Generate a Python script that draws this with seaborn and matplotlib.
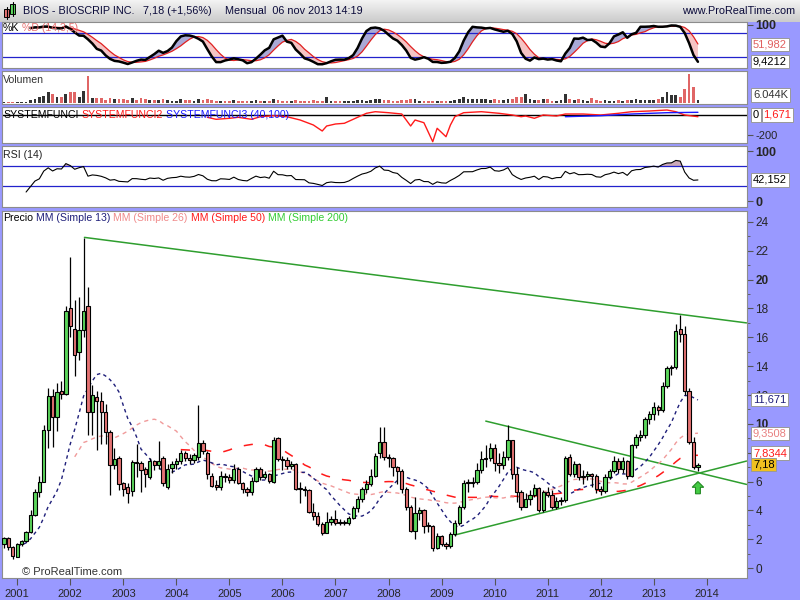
import numpy as np
import pandas as pd
import matplotlib
matplotlib.use("Agg")
import matplotlib.pyplot as plt
from matplotlib.patches import Rectangle
import seaborn as sns

# BIOS monthly candles, Oct 2000 .. Nov 2013 (rows = calendar years)
opens = [
    1.70, 2.10, 1.48,
    0.80, 1.70, 1.85, 2.50, 3.70, 5.25, 6.00, 9.60, 11.90, 10.50, 12.30, 12.10,
    18.05, 16.60, 14.95, 16.50, 18.20, 10.80, 11.85, 11.60, 10.80, 9.40, 7.15, 7.60,
    5.90, 5.65, 5.35, 7.35, 7.30, 6.90, 6.30, 7.45, 7.15, 7.60, 5.60, 6.95,
    7.25, 7.40, 7.95, 7.60, 7.50, 7.70, 8.70, 8.00, 6.40, 5.70, 5.65, 6.40,
    6.30, 6.10, 6.90, 5.90, 5.45, 5.25, 6.05, 6.85, 6.30, 6.50, 6.00, 9.05,
    7.55, 7.50, 7.10, 7.20, 5.50, 5.45, 5.40, 3.90, 3.60, 3.05, 2.40, 3.20,
    3.40, 3.15, 3.10, 3.15, 3.50, 4.15, 4.80, 5.45, 5.80, 6.40, 8.00, 8.75,
    7.70, 7.60, 7.00, 6.75, 5.45, 4.25, 2.60, 3.80, 4.00, 2.95, 2.90, 1.40,
    2.20, 1.65, 1.50, 2.35, 3.15, 4.20, 5.90, 5.90, 5.95, 6.80, 7.55, 7.60,
    8.35, 7.30, 7.15, 7.70, 8.90, 6.50, 5.25, 4.20, 4.80, 5.10, 5.55, 4.00,
    5.30, 5.05, 4.20, 4.65, 4.70, 7.70, 6.55, 7.20, 6.30, 6.35, 6.50, 6.40,
    5.50, 5.35, 6.30, 6.70, 7.40, 6.90, 7.40, 6.40, 8.50, 9.10, 9.20, 10.35,
    10.70, 11.20, 10.95, 12.65, 13.85, 13.95, 16.55, 16.25, 12.25, 8.75, 7.00,
]
highs = [
    2.15, 2.15, 1.55,
    1.75, 1.95, 2.60, 4.00, 5.50, 6.40, 9.90, 12.50, 12.40, 12.80, 13.00, 18.20,
    21.60, 18.60, 18.80, 22.90, 19.50, 12.70, 12.30, 12.20, 11.40, 9.60, 8.30, 7.80,
    6.00, 5.90, 7.50, 8.60, 7.40, 7.00, 7.60, 7.50, 8.80, 7.80, 7.20, 7.40,
    7.60, 8.20, 8.10, 7.90, 8.00, 11.30, 8.90, 8.10, 6.60, 6.10, 6.70, 6.60,
    6.50, 7.20, 7.00, 6.00, 5.60, 6.30, 7.00, 7.00, 6.70, 6.60, 9.10, 9.10,
    7.80, 7.70, 7.40, 7.30, 6.00, 5.70, 5.50, 4.50, 3.90, 3.20, 3.90, 3.60,
    4.00, 3.40, 3.30, 3.60, 4.30, 5.00, 5.60, 6.10, 6.90, 8.00, 9.80, 9.80,
    7.90, 7.70, 7.10, 6.90, 5.60, 4.40, 4.90, 4.20, 4.10, 3.20, 3.00, 2.40,
    2.30, 1.80, 2.50, 3.30, 4.40, 6.10, 6.20, 6.30, 7.30, 8.10, 8.50, 8.70,
    8.60, 8.00, 8.10, 9.90, 8.90, 7.00, 5.40, 5.20, 5.40, 5.80, 5.60, 5.40,
    5.60, 5.40, 4.90, 4.90, 7.80, 7.90, 7.40, 7.30, 6.80, 6.70, 6.60, 6.50,
    5.70, 6.50, 6.90, 7.80, 7.60, 7.70, 7.50, 8.60, 9.30, 9.60, 10.50, 10.90,
    11.50, 11.30, 12.90, 14.00, 14.10, 16.90, 17.55, 16.80, 12.50, 9.10, 7.30,
]
lows = [
    1.40, 1.25, 0.60,
    0.75, 1.55, 1.80, 2.40, 3.60, 4.90, 6.00, 8.30, 8.40, 9.50, 11.70, 12.00,
    16.00, 13.30, 14.40, 16.00, 9.20, 9.20, 8.20, 8.60, 8.60, 5.06, 6.90, 5.40,
    5.00, 4.50, 5.00, 6.30, 5.30, 5.60, 6.20, 6.80, 6.90, 5.70, 5.50, 6.60,
    6.90, 7.20, 7.40, 7.20, 7.30, 7.50, 7.90, 6.20, 5.60, 5.40, 5.40, 6.00,
    5.90, 5.90, 5.80, 5.20, 5.00, 5.10, 6.00, 6.10, 6.20, 5.90, 5.90, 7.40,
    6.80, 6.90, 6.90, 5.40, 4.50, 5.00, 3.80, 3.30, 2.90, 2.30, 2.40, 3.00,
    3.00, 3.00, 3.00, 3.00, 3.40, 3.90, 4.60, 5.20, 5.70, 6.30, 7.60, 7.50,
    7.00, 6.40, 5.80, 5.20, 4.00, 2.50, 2.00, 3.30, 2.40, 2.50, 1.20, 1.30,
    1.50, 1.30, 1.40, 2.20, 3.00, 4.10, 5.30, 5.60, 5.80, 6.60, 7.00, 7.40,
    6.70, 6.60, 6.90, 7.50, 6.20, 4.60, 4.00, 4.20, 4.40, 4.90, 3.90, 3.90,
    4.90, 4.10, 4.10, 4.40, 4.60, 6.40, 6.30, 6.10, 5.80, 6.10, 5.60, 5.20,
    5.10, 5.20, 6.20, 6.60, 6.60, 6.60, 6.20, 6.30, 8.30, 8.80, 9.00, 10.00,
    10.30, 10.60, 10.80, 12.50, 13.40, 13.80, 15.70, 12.00, 8.60, 6.90, 6.70,
]
closes = [
    2.10, 1.48, 0.85,
    1.70, 1.85, 2.50, 3.70, 5.25, 6.00, 9.60, 11.90, 10.50, 12.20, 12.10, 17.80,
    16.80, 14.80, 16.50, 17.80, 10.80, 12.00, 11.60, 10.80, 9.40, 7.15, 7.55, 5.80,
    5.50, 5.20, 7.35, 7.30, 6.80, 6.50, 7.45, 7.15, 7.45, 5.90, 6.90, 7.25,
    7.40, 8.00, 7.60, 7.50, 7.85, 8.70, 8.15, 6.50, 5.70, 5.65, 6.40, 6.30,
    6.10, 6.90, 5.90, 5.45, 5.25, 6.05, 6.85, 6.30, 6.50, 6.05, 8.90, 7.55,
    7.50, 7.10, 7.20, 5.50, 5.45, 5.40, 3.90, 3.60, 3.05, 2.40, 3.20, 3.40,
    3.15, 3.10, 3.15, 3.50, 4.15, 4.80, 5.45, 5.80, 6.40, 7.80, 8.75, 7.70,
    7.60, 7.00, 6.75, 5.45, 4.25, 2.60, 3.80, 4.00, 2.95, 2.90, 1.40, 2.20,
    1.65, 1.50, 2.35, 3.15, 4.20, 5.90, 5.90, 5.95, 6.80, 7.55, 7.60, 8.35,
    7.30, 7.15, 7.70, 8.90, 6.50, 5.25, 4.20, 4.80, 5.10, 5.55, 4.00, 5.25,
    5.05, 4.20, 4.65, 4.70, 7.60, 6.55, 7.20, 6.30, 6.35, 6.50, 6.40, 5.50,
    5.35, 6.30, 6.70, 7.40, 6.90, 7.40, 6.40, 8.50, 9.10, 9.20, 10.35, 10.70,
    11.20, 10.95, 12.65, 13.85, 13.95, 16.45, 16.25, 12.25, 8.75, 7.00, 7.18,
]
volumes_k = [
    2, 2, 2,
    2, 2, 3, 6, 7, 12, 13, 20, 17, 12, 12, 17,
    20, 20, 12, 22, 48, 10, 10, 9, 6, 10, 7, 7,
    7, 6, 9, 6, 9, 7, 6, 6, 6, 7, 6, 5,
    5, 7, 6, 6, 5, 8, 6, 7, 6, 5, 4, 5,
    5, 6, 5, 4, 4, 5, 6, 5, 4, 4, 8, 6,
    5, 4, 4, 6, 5, 4, 5, 6, 5, 5, 12, 5,
    4, 4, 4, 5, 5, 6, 6, 5, 6, 7, 8, 6,
    6, 5, 5, 6, 6, 7, 7, 5, 4, 4, 4, 4,
    4, 4, 5, 6, 7, 12, 8, 8, 8, 7, 8, 6,
    7, 6, 6, 7, 8, 11, 11, 17, 7, 6, 6, 7,
    8, 5, 5, 6, 17, 7, 6, 7, 6, 5, 10, 6,
    5, 6, 5, 5, 6, 5, 6, 6, 7, 6, 6, 6,
    6, 8, 11, 20, 14, 14, 12, 26, 51, 29, 6,
]

# SYSTEMFUNCI2 / SYSTEMFUNCI3 (month index, value)
sf2_month = [46, 48, 51, 53, 56, 58, 61, 64, 67, 70, 72, 73, 75, 77, 79, 82, 84, 87, 90,
             92, 93, 95, 97, 98, 100, 101, 102, 104, 108, 112, 115, 117, 118, 120, 122,
             125, 127, 131, 135, 139, 142, 146, 150, 152, 154, 157]
sf2_value = [-23, -43, -33, -23, -43, -17, -7, -17, -50, -100, -160, -110, -90, -83, -43,
             17, 33, 23, 10, -110, -50, -77, -267, -133, -217, -100, -17, 23, 33, 17, 0,
             -17, -10, -33, 0, -10, 10, 10, 0, 17, 33, 40, 50, 33, 0, -17]
sf3_month = [127, 135, 142, 150, 157]
sf3_value = [-17, -7, 10, 23, 27]

# hand-drawn trendlines (month index, price)
trend_long = ([18.2, 168.0], [22.93, 17.0])
trend_down = ([109.0, 168.0], [10.19, 5.8])
trend_up = ([102.0, 168.0], [2.29, 7.42])

years = list(range(2001, 2015))

PURPLE = "#9999ff"
GREEN = "#5cd65c"
RED = "#e57373"
NAVY = "#1f1f7a"
PINK = "#f09a9a"
MA50 = "#ff1a1a"
TREND = "#2e9e2e"
HLINE = "#2222cc"
BORDER = "#8c8c8c"

sns.set_style("white")
plt.rcParams["font.family"] = ["Liberation Sans", "DejaVu Sans"]

df = pd.DataFrame({"open": opens, "high": highs, "low": lows, "close": closes, "vol": volumes_k})
df["m"] = np.arange(len(df), dtype=float)
up = df["close"] >= df["open"]

df["sma13"] = df["close"].rolling(13, min_periods=4).mean()
df["sma26"] = df["close"].rolling(26, min_periods=17).mean()
df["sma50"] = df["close"].rolling(50, min_periods=41).mean()

ll = df["low"].rolling(14, min_periods=7).min()
hh = df["high"].rolling(14, min_periods=7).max()
df["k"] = (100 * (df["close"] - ll) / (hh - ll)).rolling(3, min_periods=1).mean()
df["d"] = df["k"].rolling(5, min_periods=1).mean()

delta = df["close"].diff()
gain = delta.clip(lower=0).ewm(alpha=1 / 14, adjust=False).mean()
loss = (-delta.clip(upper=0)).ewm(alpha=1 / 14, adjust=False).mean()
df["rsi"] = 100 - 100 / (1 + gain / loss)

W, H = 800, 600
X0, X1 = -0.45, 168.1
fig = plt.figure(figsize=(8, 6), dpi=100)
fig.patch.set_facecolor(PURPLE)


def panel(top, bottom, vtop, vbot):
    ax = fig.add_axes([2 / W, 1 - bottom / H, 745 / W, (bottom - top) / H])
    ax.set_facecolor("white")
    ax.set_xlim(X0, X1)
    ax.set_ylim(vbot, vtop)
    for s in ax.spines.values():
        s.set_color(BORDER)
        s.set_linewidth(0.8)
    ax.set_xticks([])
    ax.yaxis.tick_right()
    ax.tick_params(axis="y", length=4, color="#555555", labelsize=8, pad=2)
    return ax


def chain(x_px, y_px, parts, size=7.6):
    renderer = fig.canvas.get_renderer()
    x = x_px
    for text, color in parts:
        t = fig.text(x / W, 1 - y_px / H, text, color=color, fontsize=size, va="center", ha="left")
        x += t.get_window_extent(renderer).width + 3


def value_box(ax, y, text, color, face="white"):
    ax.text(1.008, y, text, transform=ax.get_yaxis_transform(), fontsize=8, color=color,
            va="center", ha="left", clip_on=False, zorder=10,
            bbox=dict(boxstyle="square,pad=0.15", fc=face, ec="#999999", lw=0.7))


def line(ax, x, y, color, lw=1.0, ls="-"):
    d = pd.DataFrame({"x": x, "y": y}).dropna()
    sns.lineplot(data=d, x="x", y="y", ax=ax, color=color, linewidth=lw, linestyle=ls,
                 estimator=None, legend=False)
    ax.set_xlabel("")
    ax.set_ylabel("")


# header bar
hdr = fig.add_axes([0, 1 - 22 / H, 1, 22 / H])
hdr.imshow(np.linspace(0.95, 0.80, 20).reshape(-1, 1), cmap="gray", vmin=0, vmax=1,
           aspect="auto", extent=[0, W, 22, 0])
hdr.set_xlim(0, W)
hdr.set_ylim(22, 0)
hdr.axis("off")
for x0, y0, h, c in [(4, 9, 8, RED), (10, 4, 10, GREEN)]:
    hdr.plot([x0 + 2.5, x0 + 2.5], [y0 - 2, y0 + h + 2], color="black", lw=0.8)
    hdr.add_patch(Rectangle((x0, y0), 5, h, fc=c, ec="black", lw=0.7))
hdr.text(23, 11.5, "BIOS - BIOSCRIP INC.", fontsize=7.8, color="#0a0a3a", va="center")
hdr.text(143, 11.5, "7,18 (+1,56%)", fontsize=7.8, color="#0a0a3a", va="center")
hdr.text(225, 11.5, "Mensual  06 nov 2013 14:19", fontsize=7.8, color="#0a0a3a", va="center")
hdr.text(795, 11.5, "www.ProRealTime.com", fontsize=7.8, color="#0a0a3a", va="center", ha="right")

# stochastic
ax_st = panel(22, 68, 106.1, -6.1)
m = df["m"].values
ax_st.fill_between(m, df["k"], df["d"], where=df["k"] >= df["d"], interpolate=True,
                   color="#a9a9d6", lw=0)
ax_st.fill_between(m, df["k"], df["d"], where=df["k"] < df["d"], interpolate=True,
                   color="#f5c4c4", lw=0)
ax_st.axhline(80, color=HLINE, lw=0.9)
ax_st.axhline(20, color=HLINE, lw=0.9)
line(ax_st, m, df["d"], "#e02020", lw=0.9)
line(ax_st, m, df["k"], "black", lw=1.8)
ax_st.set_yticks([100])
ax_st.set_yticklabels(["100"], fontweight="bold", fontsize=9)
value_box(ax_st, 51.982, "51,982", "#e06060")
value_box(ax_st, 9.4212, "9,4212", "black")
chain(3, 28, [("%K", "black"), ("%D (14,3,5)", "#e87070")])

# volume
ax_v = panel(71, 104, 56.9, -0.9)
ax_v.bar(m, df["vol"], width=0.62, color=np.where(up, "#333333", "#e06666"), lw=0)
ax_v.set_yticks([])
value_box(ax_v, 14.9, "6.044K", "#333333")
chain(3, 80, [("Volumen", "#333333")])

# SYSTEMFUNCI panel
ax_sf = panel(107, 143, 80, -280)
ax_sf.axhline(0, color="black", lw=1.0)
line(ax_sf, sf2_month, sf2_value, "#ff1a1a", lw=1.0)
line(ax_sf, sf3_month, sf3_value, "#1a1aff", lw=1.0)
ax_sf.set_yticks([-200])
ax_sf.set_yticklabels(["-200"], fontsize=8)
ax_sf.text(1.008, 0, "0", transform=ax_sf.get_yaxis_transform(), fontsize=8, color="black",
           va="center", clip_on=False, bbox=dict(boxstyle="square,pad=0.15", fc="white", ec="#999999", lw=0.7))
ax_sf.text(1.022, 0, "1,671", transform=ax_sf.get_yaxis_transform(), fontsize=8, color="#ff1a1a",
           va="center", clip_on=False, bbox=dict(boxstyle="square,pad=0.15", fc="white", ec="#999999", lw=0.7))
chain(3, 115, [("SYSTEMFUNCI", "black"), ("SYSTEMFUNCI2", "#ff1a1a"),
               ("SYSTEMFUNCI3 (40,100)", "#1a1aff")])

# RSI
ax_r = panel(146, 207, 110, -12)
rsi = df["rsi"].where(df["m"] >= 5)
ax_r.fill_between(m, rsi, 70, where=rsi > 70, interpolate=True, color="#cdaab8", lw=0)
ax_r.axhline(70, color=HLINE, lw=0.9)
ax_r.axhline(30, color=HLINE, lw=0.9)
line(ax_r, m, rsi, "black", lw=0.8)
ax_r.set_yticks([0, 100])
ax_r.set_yticklabels(["0", "100"], fontweight="bold", fontsize=9)
value_box(ax_r, 42.152, "42,152", "black")
chain(3, 155, [("RSI (14)", "#222222")])

# price panel
ax_p = panel(211, 578, 24.76, -0.69)
line(ax_p, trend_long[0], trend_long[1], TREND, lw=1.1)
line(ax_p, trend_down[0], trend_down[1], TREND, lw=1.1)
line(ax_p, trend_up[0], trend_up[1], TREND, lw=1.1)
line(ax_p, m, df["sma50"], MA50, lw=1.1, ls=(0, (6, 8)))
line(ax_p, m, df["sma26"], PINK, lw=1.0, ls=(0, (3, 3)))
line(ax_p, m, df["sma13"], NAVY, lw=1.0, ls=(0, (2.5, 2.5)))
ax_p.vlines(m, df["low"], df["high"], color="black", lw=0.9, zorder=3)
body_lo = np.minimum(df["open"], df["close"])
body_h = np.maximum((df["close"] - df["open"]).abs(), 0.08)
ax_p.bar(m, body_h, bottom=body_lo, width=0.74, color=np.where(up, GREEN, RED),
         edgecolor="black", linewidth=0.8, zorder=4)
# buy arrow under the last candle
ax_p.arrow(m[-1], 5.15, 0, 0.85, width=1.1, head_width=2.6, head_length=0.4,
           length_includes_head=True, fc="#44cc44", ec="#228822", lw=0.8, zorder=5)
ax_p.set_yticks(range(0, 25, 2))
ax_p.set_yticks(range(1, 25, 2), minor=True)
ax_p.set_yticklabels([str(v) for v in range(0, 25, 2)], fontsize=8.5)
for lab in ax_p.get_yticklabels():
    if lab.get_text() in ("10", "20"):
        lab.set_fontweight("bold")
ax_p.tick_params(axis="y", which="minor", length=2.5, color="#555555")
ax_p.set_xticks([3 + 12 * k for k in range(len(years))])
ax_p.set_xticklabels([str(y) for y in years], fontsize=8)
ax_p.tick_params(axis="x", length=5, color="#555555", pad=3, bottom=True)
value_box(ax_p, 11.671, "11,671", NAVY)
value_box(ax_p, 9.3508, "9,3508", "#e88080")
value_box(ax_p, 7.97, "7,8344", "#ff1a1a")
value_box(ax_p, 7.18, "7,18", "black", face="#f0c020")
chain(3, 218, [("Precio", "black"), ("MM (Simple 13)", NAVY), ("MM (Simple 26)", "#f08a8a"),
               ("MM (Simple 50)", "#ff1a1a"), ("MM (Simple 200)", "#33cc33")])
ax_p.text(4, -0.25, "© ProRealTime.com", fontsize=8, color="#333333", va="center")

fig.savefig("out.png", dpi=100, facecolor=fig.get_facecolor())
